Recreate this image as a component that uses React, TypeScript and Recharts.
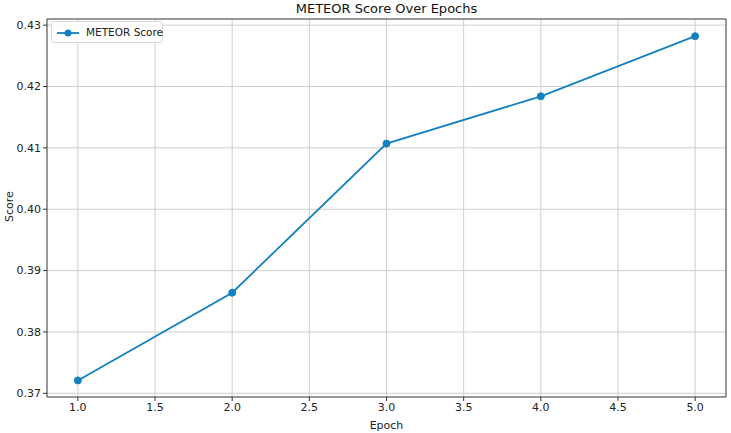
import React from "react";
import { LineChart, Line, XAxis, YAxis, CartesianGrid, ReferenceLine } from "recharts";

const epochs = [1, 2, 3, 4, 5];
const meteorScores = [0.3721, 0.3864, 0.4107, 0.4184, 0.4282];
const xTicks = [1.0, 1.5, 2.0, 2.5, 3.0, 3.5, 4.0, 4.5, 5.0];
const yTicks = [0.37, 0.38, 0.39, 0.4, 0.41, 0.42, 0.43];

const data = epochs.map((e, i) => ({ epoch: e, score: meteorScores[i] }));

const COLOR = "#1380c0";
const FONT = "DejaVu Sans, sans-serif";
const X_DOMAIN: [number, number] = [0.8, 5.2];
const Y_DOMAIN: [number, number] = [0.3694, 0.431];

const LegendBox = () => (
  <div
    style={{
      position: "absolute",
      left: 51,
      top: 21,
      width: 112,
      height: 22,
      border: "1px solid #d8d8d8",
      borderRadius: 3,
      background: "rgba(255,255,255,0.85)",
      boxSizing: "border-box",
      fontFamily: FONT,
      fontSize: 10.5,
      color: "#222",
    }}
  >
    <svg width={30} height={20} style={{ position: "absolute", left: 4, top: 1 }}>
      <line x1={1} y1={10} x2={23} y2={10} stroke={COLOR} strokeWidth={1.8} />
      <circle cx={12} cy={10} r={3.5} fill={COLOR} />
    </svg>
    <span style={{ position: "absolute", left: 34, top: 4, whiteSpace: "nowrap" }}>METEOR Score</span>
  </div>
);

export default function App() {
  return (
    <div style={{ position: "absolute", left: 0, top: 0, width: 731, height: 433, background: "#fff" }}>
      <div
        style={{
          position: "absolute",
          left: 47,
          width: 679,
          top: 1,
          textAlign: "center",
          fontFamily: FONT,
          fontSize: 13,
          color: "#111",
        }}
      >
        METEOR Score Over Epochs
      </div>
      <LineChart
        width={731}
        height={433}
        data={data}
        margin={{ top: 19, right: 5, bottom: 0, left: 7 }}
        style={{ position: "absolute", left: 0, top: 0 }}
      >
        <CartesianGrid stroke="#cfcfcf" strokeWidth={1} vertical horizontal
          verticalValues={xTicks} horizontalValues={yTicks} />
        <XAxis
          dataKey="epoch"
          type="number"
          domain={X_DOMAIN}
          ticks={xTicks}
          tickFormatter={(v: number) => v.toFixed(1)}
          allowDataOverflow
          height={36}
          stroke="#333"
          tickSize={4}
          tick={{ fill: "#222", fontSize: 11, fontFamily: FONT }}
          label={{ value: "Epoch", position: "insideBottom", offset: 4, fill: "#222", fontSize: 11, fontFamily: FONT }}
        />
        <YAxis
          type="number"
          domain={Y_DOMAIN}
          ticks={yTicks}
          tickFormatter={(v: number) => v.toFixed(2)}
          allowDataOverflow
          width={40}
          stroke="#333"
          tickSize={4}
          tick={{ fill: "#222", fontSize: 11, fontFamily: FONT }}
          label={{ value: "Score", angle: -90, position: "insideLeft", offset: 2, fill: "#222", fontSize: 11, fontFamily: FONT, dy: 14 }}
        />
        <ReferenceLine x={X_DOMAIN[1]} stroke="#333" ifOverflow="visible" />
        <ReferenceLine y={Y_DOMAIN[1]} stroke="#333" ifOverflow="visible" />
        <Line
          type="linear"
          dataKey="score"
          stroke={COLOR}
          strokeWidth={1.8}
          dot={{ r: 3.5, fill: COLOR, stroke: COLOR, strokeWidth: 1 }}
          activeDot={false}
          isAnimationActive={false}
        />
      </LineChart>
      <LegendBox />
    </div>
  );
}
